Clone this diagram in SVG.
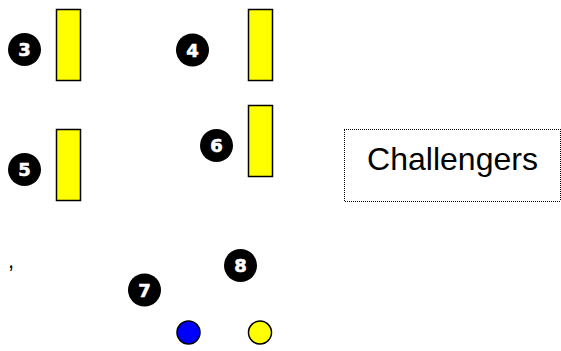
<svg xmlns="http://www.w3.org/2000/svg" width="561" height="351" viewBox="0 0 561 351">
<style>
.post{fill:#ffff00;stroke:#000;stroke-width:1.5}
.badge circle{fill:#000}
.badge text{fill:#fff;font-family:"DejaVu Sans",sans-serif;font-weight:bold;font-size:18px;text-anchor:middle;stroke:#fff;stroke-width:0.6}
.ball{stroke:#000;stroke-width:1.5}
</style>
<rect width="561" height="351" fill="#fff"/>
<g id="post3"><rect class="post" x="56.5" y="9.5" width="24" height="71"/></g>
<g id="post4"><rect class="post" x="248.5" y="9.5" width="24" height="71"/></g>
<g id="post5"><rect class="post" x="56.5" y="129.5" width="24" height="71"/></g>
<g id="post6"><rect class="post" x="248.5" y="105.5" width="24" height="71"/></g>
<g id="badge3" class="badge"><circle cx="24.5" cy="49.5" r="16.5"/><text x="24.5" y="56">3</text></g>
<g id="badge4" class="badge"><circle cx="192.5" cy="50" r="16.5"/><text x="192.5" y="56.5">4</text></g>
<g id="badge5" class="badge"><circle cx="24.5" cy="169.5" r="16.5"/><text x="24.5" y="176">5</text></g>
<g id="badge6" class="badge"><circle cx="216.5" cy="145.5" r="16.5"/><text x="216.5" y="152">6</text></g>
<g id="badge7" class="badge"><circle cx="144.5" cy="290" r="16.5"/><text x="144.5" y="296.5">7</text></g>
<g id="badge8" class="badge"><circle cx="240.5" cy="265.5" r="16.5"/><text x="240.5" y="272">8</text></g>
<g id="challengers">
<rect x="344" y="129" width="216" height="72" fill="#fff" stroke="#000" stroke-width="1" stroke-dasharray="1,1" shape-rendering="crispEdges"/>
<text x="452.5" y="170" font-family="'Liberation Sans',Arial,sans-serif" font-size="32" text-anchor="middle" fill="#000">Challengers</text>
</g>
<g id="ballBlue"><circle class="ball" cx="188.5" cy="332.5" r="11.5" fill="#0000ff"/></g>
<g id="ballYellow"><circle class="ball" cx="260" cy="332.5" r="11.5" fill="#ffff00"/></g>
<text x="8" y="268" font-family="'Liberation Sans',Arial,sans-serif" font-size="22" fill="#000">,</text>
<g id="connectors"/>
</svg>
